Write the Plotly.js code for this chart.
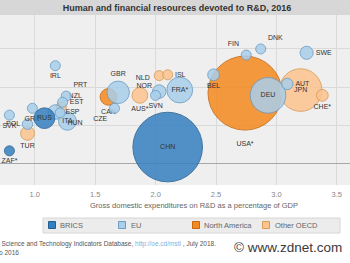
<!DOCTYPE html>
<html>
<head>
<meta charset="utf-8">
<script src="https://cdn.plot.ly/plotly-3.0.1.min.js"></script>
<style>
  html, body { margin: 0; padding: 0; background: #fff; }
  #chart { width: 350px; height: 263px; }
</style>
</head>
<body>
<div id="chart"></div>
<script>
// R&D intensity (GERD as % of GDP), researchers per thousand employment,
// and GERD volume (billion USD PPP, drives bubble area), 2016.
const countries   = ['USA*','CAN','CHN','RUS','ZAF*','DEU','FRA*','GBR','ITA','ESP','BEL','FIN','DNK','SWE','AUT','CZE','NLD','SVN','IRL','PRT','EST','HUN','GRC','SVK','POL','JPN','AUS*','CHE*','TUR','NOR','ISL','NZL'];
const gerdPct     = [2.74, 1.61, 2.10, 1.08, 0.79, 2.93, 2.20, 1.69, 1.27, 1.17, 2.48, 2.75, 2.87, 3.25, 3.09, 1.66, 2.03, 2.00, 1.17, 1.26, 1.23, 1.21, 0.98, 0.79, 0.94, 3.20, 1.87, 3.38, 0.94, 2.03, 2.10, 1.22];
const researchers = [9.2, 8.7, 2.1, 5.9, 1.6, 8.9, 9.6, 9.3, 5.5, 6.7, 11.6, 14.2, 15.0, 14.5, 10.4, 7.2, 9.4, 8.9, 12.8, 8.8, 8.0, 6.6, 7.2, 6.3, 5.1, 9.6, 8.9, 8.9, 3.9, 11.5, 11.6, 7.4];
const gerdBn      = [511, 26, 452, 40, 5.5, 118, 62, 47, 30, 20, 13, 7, 9, 16, 12, 4.5, 17, 1, 3.5, 3.5, 0.5, 3.6, 2.2, 1.3, 10, 169, 23, 13, 18, 6.5, 0.4, 1.8];
const groups      = ['North America','North America','BRICS','BRICS','BRICS','EU','EU','EU','EU','EU','EU','EU','EU','EU','EU','EU','EU','EU','EU','EU','EU','EU','EU','EU','EU','Other OECD','Other OECD','Other OECD','Other OECD','Other OECD','Other OECD','Other OECD'];

// Legend order and group colours
const groupNames  = ['BRICS','EU','North America','Other OECD'];
const groupFill   = {'BRICS':'#3580bf','EU':'#a9cfeb','North America':'#f58a1f','Other OECD':'#fcc48e'};
const groupLine   = {'BRICS':'#245f93','EU':'#6b9dc6','North America':'#c8680e','Other OECD':'#d99a56'};

// Where each country code sits relative to its bubble
const labelPlacement = {
  'USA*':'bottom center','CAN':'bottom center','CHN':'middle center','RUS':'middle center','ZAF*':'bottom center',
  'DEU':'middle center','FRA*':'middle center','GBR':'top center','ITA':'middle center','ESP':'middle right',
  'BEL':'bottom center','FIN':'top left','DNK':'top right','SWE':'middle right','AUT':'middle right',
  'CZE':'bottom left','NLD':'top left','SVN':'bottom center','IRL':'bottom center','PRT':'top right',
  'EST':'middle right','HUN':'bottom right','GRC':'bottom center','SVK':'bottom center','POL':'middle left',
  'JPN':'middle center','AUS*':'bottom center','CHE*':'bottom center','TUR':'bottom center','NOR':'bottom left',
  'ISL':'middle right','NZL':'top right'
};

const maxDiameter = 74;
const sizeref = 2 * Math.max(...gerdBn) / (maxDiameter * maxDiameter);

// Larger groups first so smaller bubbles stay visible on top
const drawOrder = ['North America','Other OECD','EU','BRICS'];
const traces = drawOrder.map(g => {
  const idx = countries.map((c, i) => i).filter(i => groups[i] === g)
                       .sort((a, b) => gerdBn[b] - gerdBn[a]);
  return {
    type: 'scatter',
    mode: 'markers+text',
    name: g,
    showlegend: false,
    x: idx.map(i => gerdPct[i]),
    y: idx.map(i => researchers[i]),
    text: idx.map(i => countries[i]),
    textposition: idx.map(i => labelPlacement[countries[i]]),
    textfont: { family: 'Liberation Sans, Arial, sans-serif', size: 7, color: '#333' },
    cliponaxis: false,
    hoverinfo: 'skip',
    marker: {
      size: idx.map(i => gerdBn[i]),
      sizemode: 'area',
      sizeref: sizeref,
      sizemin: 5,
      color: groupFill[g],
      opacity: 0.85,
      line: { color: groupLine[g], width: 1 }
    }
  };
});

// Pixel helpers for the figure furniture (plot area spans y 15..185)
const W = 350, plotTop = 15, plotBottom = 185, plotH = plotBottom - plotTop;
const px = v => v / W;
const py = v => (plotBottom - v) / plotH;

const shapes = [
  { type:'rect', xref:'paper', yref:'paper', x0:0, x1:1, y0:1, y1:py(0), fillcolor:'#d7d7d7', line:{width:0}, layer:'below' },
  { type:'rect', xref:'paper', yref:'paper', x0:px(43), x1:px(340), y0:py(233), y1:py(218), fillcolor:'#ececec', line:{color:'#d6d6d6', width:1} }
];
const legendSwatchX = [52, 122, 196, 266];
const legendTextX   = [58, 129, 202, 273];
const annotations = [];
groupNames.forEach((g, k) => {
  shapes.push({ type:'rect', xref:'paper', yref:'paper',
    x0:px(legendSwatchX[k]-3.5), x1:px(legendSwatchX[k]+3.5), y0:py(228.5), y1:py(221.5),
    fillcolor:groupFill[g], line:{color:groupLine[g], width:1} });
  annotations.push({ xref:'paper', yref:'paper', x:px(legendTextX[k]), y:py(225), xanchor:'left', yanchor:'middle',
    text:g, showarrow:false, font:{family:'Liberation Sans, Arial, sans-serif', size:7.5, color:'#666'} });
});

annotations.push(
  { xref:'paper', yref:'paper', x:px(194), y:py(205), xanchor:'center', yanchor:'middle', showarrow:false,
    text:'Gross domestic expenditures on R&amp;D as a percentage of GDP',
    font:{family:'Liberation Sans, Arial, sans-serif', size:7.5, color:'#666'} },
  { xref:'paper', yref:'paper', x:px(218), y:py(244), xanchor:'right', yanchor:'middle', showarrow:false,
    text:'Source: OECD, Main Science and Technology Indicators Database, <span style="color:#7eb0dc">http://oe.cd/msti</span> , July 2018.',
    font:{family:'Liberation Sans, Arial, sans-serif', size:6.5, color:'#555'} },
  { xref:'paper', yref:'paper', x:px(21), y:py(253), xanchor:'right', yanchor:'middle', showarrow:false,
    text:'Note: * data refer to 2015 or latest year up to 2016',
    font:{family:'Liberation Sans, Arial, sans-serif', size:6.5, color:'#555'} },
  { xref:'paper', yref:'paper', x:px(288), y:py(247), xanchor:'center', yanchor:'middle', showarrow:false,
    text:'© www.zdnet.com',
    font:{family:'Liberation Sans, Arial, sans-serif', size:13.5, color:'#3a3a3a'} }
);

const layout = {
  width: 350, height: 263,
  margin: { l: 0, r: 0, t: plotTop, b: 263 - plotBottom, pad: 0 },
  paper_bgcolor: '#ffffff',
  plot_bgcolor: '#efefef',
  showlegend: false,
  title: {
    text: '<b>Human and financial resources devoted to R&amp;D, 2016</b>',
    x: 177 / W, xanchor: 'center', xref: 'paper',
    y: 1 - 7.5 / 263, yanchor: 'middle', yref: 'container',
    font: { family: 'Liberation Sans, Arial, sans-serif', size: 9, color: '#333' }
  },
  xaxis: {
    range: [0.712, 3.609],
    tickvals: [1.0, 1.5, 2.0, 2.5, 3.0, 3.5],
    tickformat: '.1f',
    ticks: '',
    ticklabelstandoff: 3,
    showline: false,
    zeroline: false,
    gridcolor: '#dadada', gridwidth: 1,
    tickfont: { family: 'Liberation Sans, Arial, sans-serif', size: 7.5, color: '#888' }
  },
  yaxis: {
    range: [-2.89, 19.47],
    tickvals: [0, 5, 10, 15],
    showticklabels: false,
    ticks: '',
    showline: false,
    zeroline: true, zerolinecolor: '#a8a8a8', zerolinewidth: 1,
    gridcolor: '#dadada', gridwidth: 1
  },
  shapes: shapes,
  annotations: annotations
};

Plotly.newPlot('chart', traces, layout, { staticPlot: true, displayModeBar: false });
</script>
</body>
</html>
